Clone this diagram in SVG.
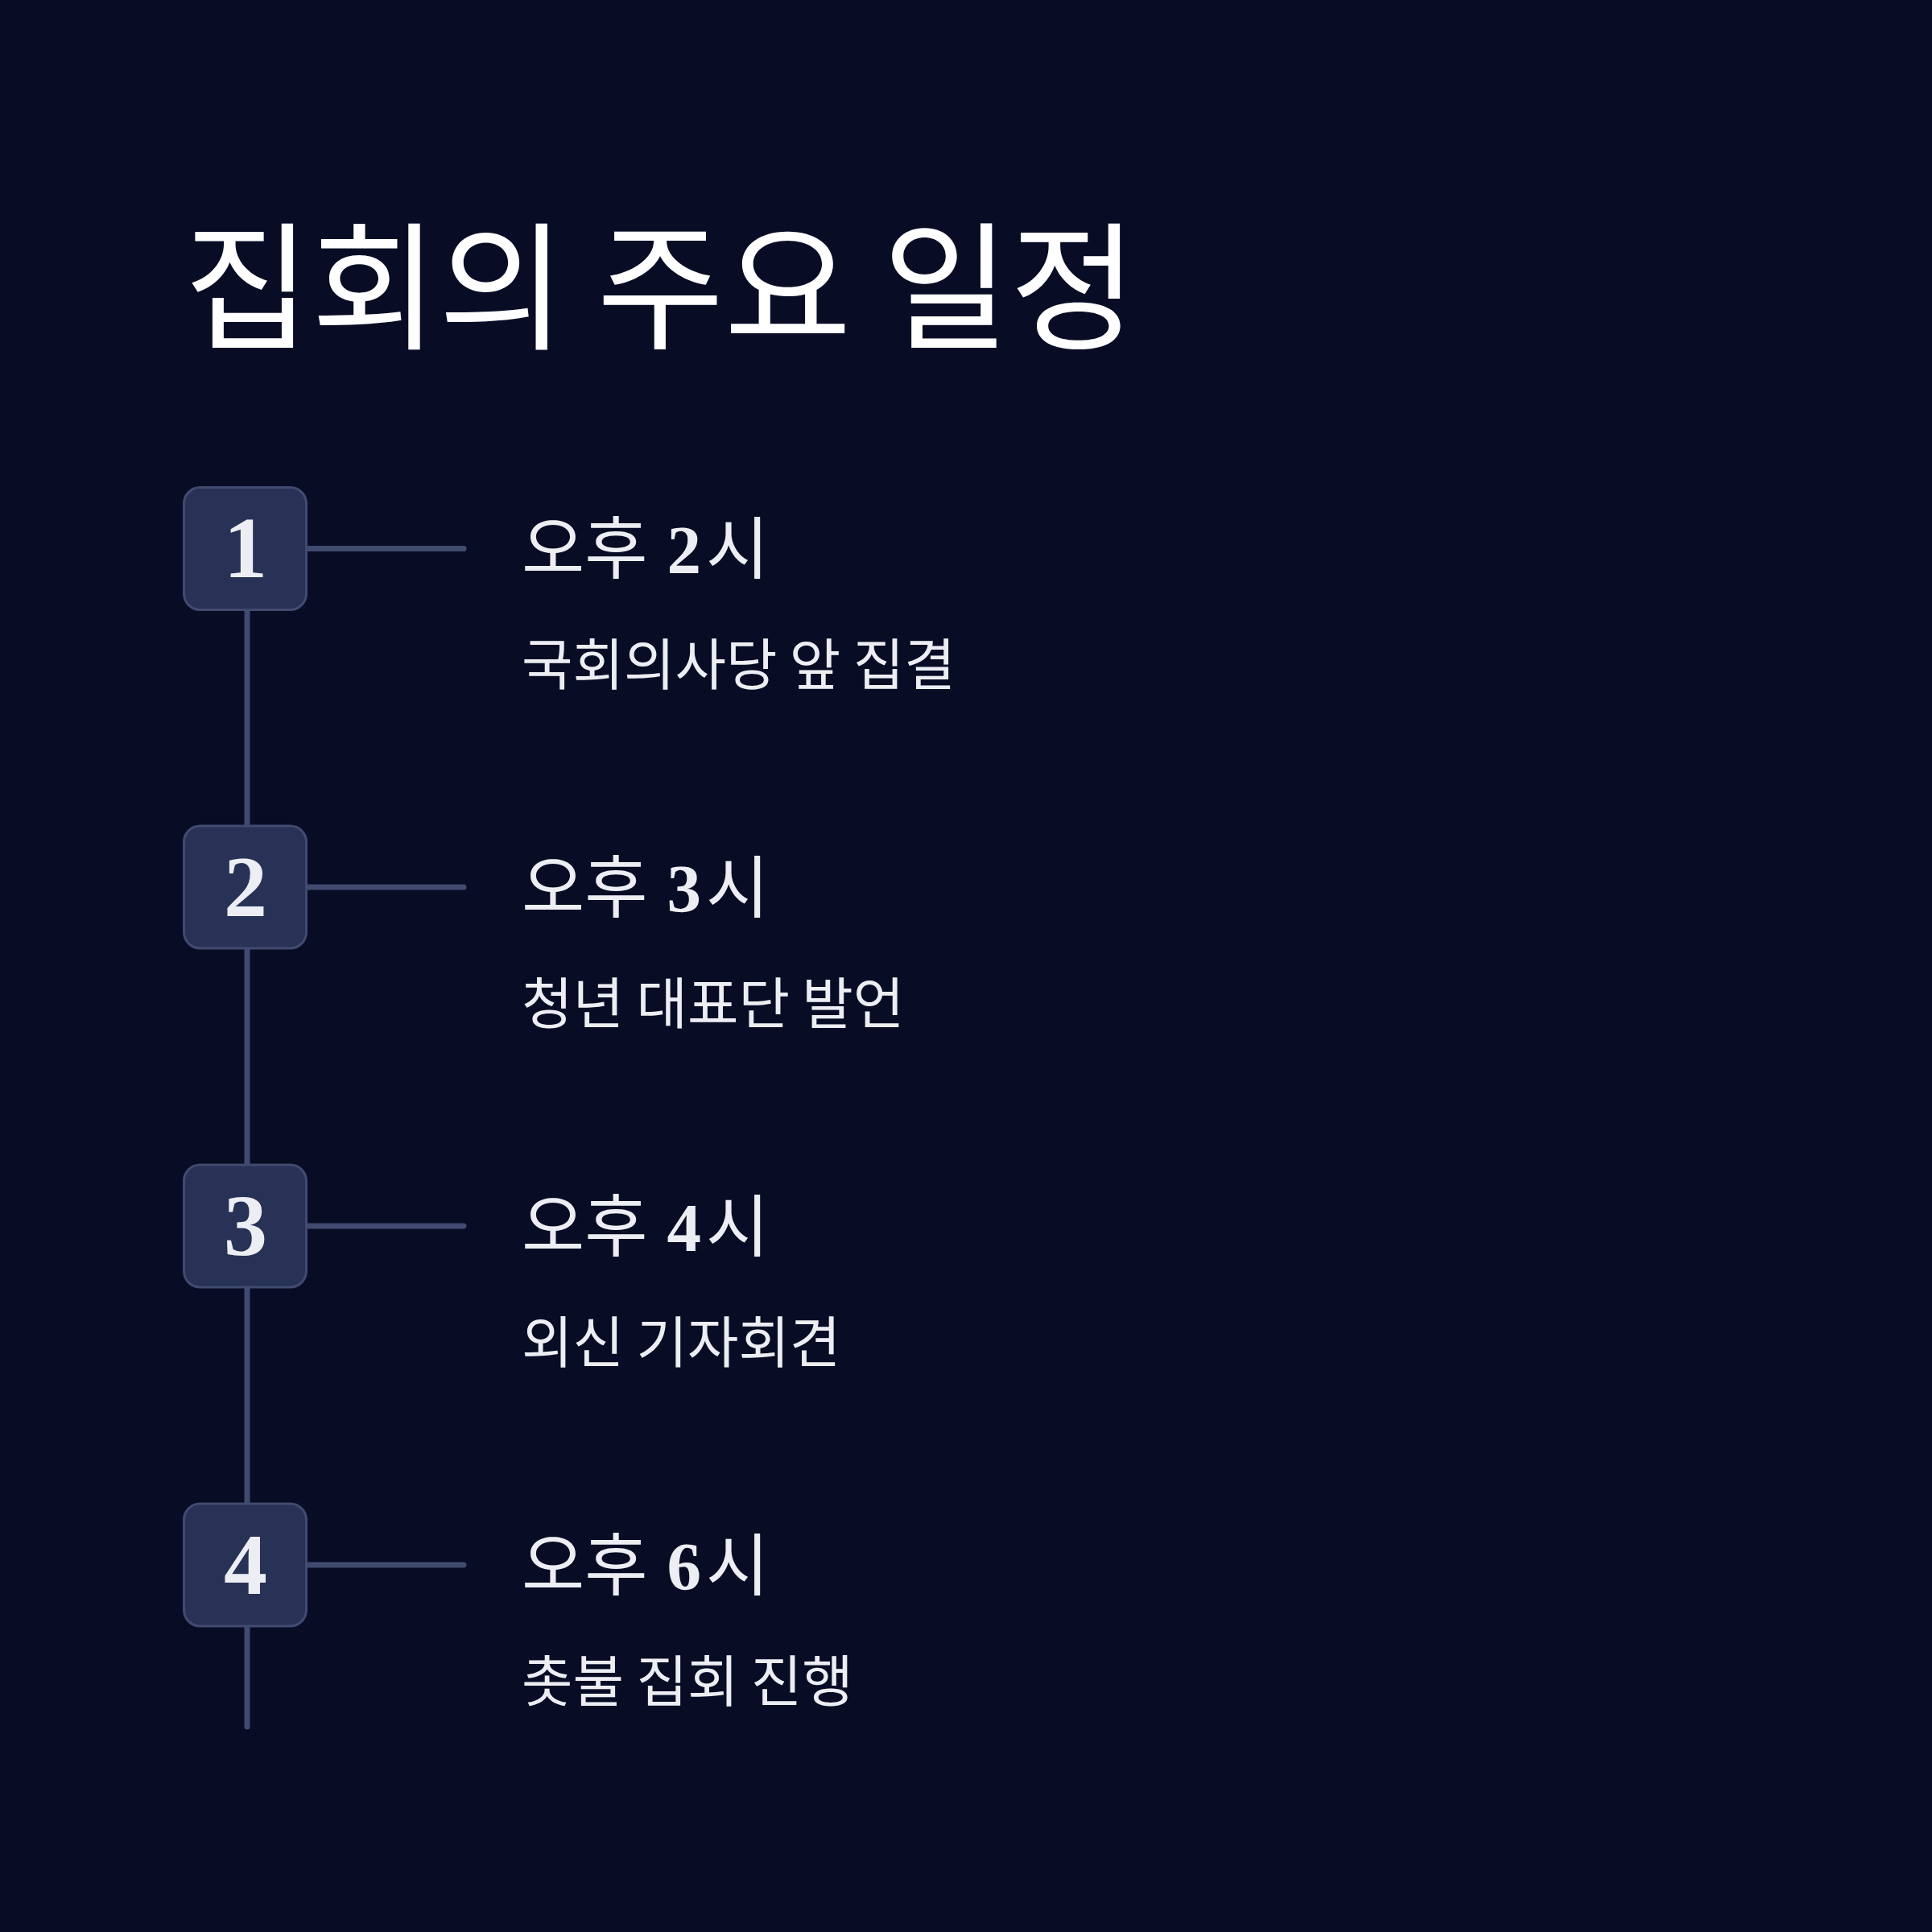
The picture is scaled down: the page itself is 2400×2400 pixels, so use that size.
<svg xmlns="http://www.w3.org/2000/svg" width="2400" height="2400" viewBox="0 0 2400 2400">
<style>
.title{font-family:"Noto Sans CJK KR","Noto Sans",sans-serif;font-size:172px;fill:#ffffff;font-weight:400}
.box{fill:#283257;stroke:#414b70;stroke-width:3}
.num{font-family:"Liberation Serif","DejaVu Serif",serif;font-weight:700;font-size:108px;fill:#eceef3;text-anchor:middle}
.time{font-family:"Liberation Serif","Noto Sans CJK KR",serif;font-size:85px;fill:#eceef3}
.time .h{font-family:"Noto Sans CJK KR","Noto Sans",sans-serif;font-weight:400}
.time .d{font-weight:700}
.desc{font-family:"Noto Sans CJK KR","Noto Sans",sans-serif;font-size:69px;fill:#eceef3}
.ln{stroke:#414b70;stroke-width:7;stroke-linecap:round;fill:none}
</style>
<rect width="2400" height="2400" fill="#080d25"/>
<text class="title" x="228" y="420">집회의 주요 일정</text>
<g id="connectors">
<line class="ln" x1="307" y1="758" x2="307" y2="1026"/>
<line class="ln" x1="307" y1="1178" x2="307" y2="1447"/>
<line class="ln" x1="307" y1="1599" x2="307" y2="1868"/>
<line class="ln" x1="307" y1="2020" x2="307" y2="2145"/>
<line class="ln" x1="382" y1="681.5" x2="576" y2="681.5"/>
<line class="ln" x1="382" y1="1102" x2="576" y2="1102"/>
<line class="ln" x1="382" y1="1523" x2="576" y2="1523"/>
<line class="ln" x1="382" y1="1944" x2="576" y2="1944"/>
</g>
<g id="node1">
<rect class="box" x="228.5" y="605.5" width="152" height="152" rx="20"/>
<text class="num" x="305" y="717">1</text>
<text class="time" x="648" y="712"><tspan class="h">오후 </tspan><tspan class="d" dx="5">2</tspan><tspan class="h" dx="6">시</tspan></text>
<text class="desc" x="648" y="851">국회의사당 앞 집결</text>
</g>
<g id="node2">
<rect class="box" x="228.5" y="1026" width="152" height="152" rx="20"/>
<text class="num" x="305" y="1137.5">2</text>
<text class="time" x="648" y="1132.5"><tspan class="h">오후 </tspan><tspan class="d" dx="5">3</tspan><tspan class="h" dx="6">시</tspan></text>
<text class="desc" x="648" y="1271.5">청년 대표단 발언</text>
</g>
<g id="node3">
<rect class="box" x="228.5" y="1447" width="152" height="152" rx="20"/>
<text class="num" x="305" y="1558.5">3</text>
<text class="time" x="648" y="1553.5"><tspan class="h">오후 </tspan><tspan class="d" dx="5">4</tspan><tspan class="h" dx="6">시</tspan></text>
<text class="desc" x="648" y="1692.5">외신 기자회견</text>
</g>
<g id="node4">
<rect class="box" x="228.5" y="1868" width="152" height="152" rx="20"/>
<text class="num" x="305" y="1979.5">4</text>
<text class="time" x="648" y="1974.5"><tspan class="h">오후 </tspan><tspan class="d" dx="5">6</tspan><tspan class="h" dx="6">시</tspan></text>
<text class="desc" x="648" y="2113.5">촛불 집회 진행</text>
</g>
</svg>
